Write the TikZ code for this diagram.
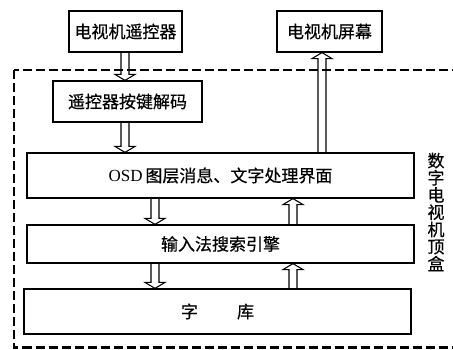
\documentclass[tikz,border=0pt]{standalone}
\usepackage{fontspec}
\setmainfont{Liberation Serif}
\newfontfamily\cjk[FakeBold=0.5]{Noto Sans CJK SC}
\usetikzlibrary{calc}
\tikzset{
  box/.style={draw, line width=1.2pt, inner sep=0pt, font=\cjk\fontsize{17}{18}\selectfont},
  arr/.style={draw, line width=1.1pt, line join=miter},
  hdown/.style={to path={let \p1=(\tikztostart), \p2=(\tikztotarget) in
     (\x1-4pt,\y1) -- (\x1-4pt,\y2+6pt) -- (\x1-10pt,\y2+6pt) -- (\x1,\y2)
     -- (\x1+10pt,\y2+6pt) -- (\x1+4pt,\y2+6pt) -- (\x1+4pt,\y1)}},
  hup/.style={to path={let \p1=(\tikztostart), \p2=(\tikztotarget) in
     (\x1-4pt,\y1) -- (\x1-4pt,\y2-6pt) -- (\x1-10pt,\y2-6pt) -- (\x1,\y2)
     -- (\x1+10pt,\y2-6pt) -- (\x1+4pt,\y2-6pt) -- (\x1+4pt,\y1)}},
}
\begin{document}
\begin{tikzpicture}[x=1pt,y=-1pt]
\useasboundingbox (0,0) rectangle (453,349);
\begin{scope}
\clip (0,0) rectangle (453,349);
\draw[line width=2.8pt, dash pattern=on 9pt off 4pt] (14,70) rectangle (480,347.5);
\end{scope}
\node[box, minimum width=113pt, minimum height=41pt] (rc) at (125.5,31.5) {电视机遥控器};
\node[box, minimum width=105pt, minimum height=41pt] (scr) at (329.5,31.5) {电视机屏幕};
\node[box, minimum width=149pt, minimum height=41pt] (dec) at (127.5,101.5) {遥控器按键解码};
\node[box, minimum width=387pt, minimum height=45pt] (osd) at (220.5,175.5) {\fontspec{Liberation Serif}OSD\,{\cjk 图层消息、文字处理界面}};
\node[box, minimum width=387pt, minimum height=38pt] (ime) at (220.5,244) {输入法搜索引擎};
\node[box, minimum width=387pt, minimum height=45pt] (lib) at (217.5,311.5) {字\hspace{2.3em}库};
\node[font=\cjk\fontsize{17}{17.2}\selectfont, align=center, inner sep=0pt] (stb) at (436,212) {数\\字\\电\\视\\机\\顶\\盒};
\coordinate (xa) at (125,0);
\coordinate (xb) at (322,0);
\coordinate (xc) at (155,0);
\coordinate (xd) at (293,0);
\draw[arr, hdown] (rc.south -| xa) to (dec.north -| xa);
\draw[arr, hdown] (dec.south -| xa) to (osd.north -| xa);
\draw[arr, hup] (osd.north -| xb) to (scr.south -| xb);
\draw[arr, hdown] (osd.south -| xc) to (ime.north -| xc);
\draw[arr, hup] (ime.north -| xd) to (osd.south -| xd);
\draw[arr, hdown] (ime.south -| xc) to (lib.north -| xc);
\draw[arr, hup] (lib.north -| xd) to (ime.south -| xd);
\end{tikzpicture}
\end{document}
